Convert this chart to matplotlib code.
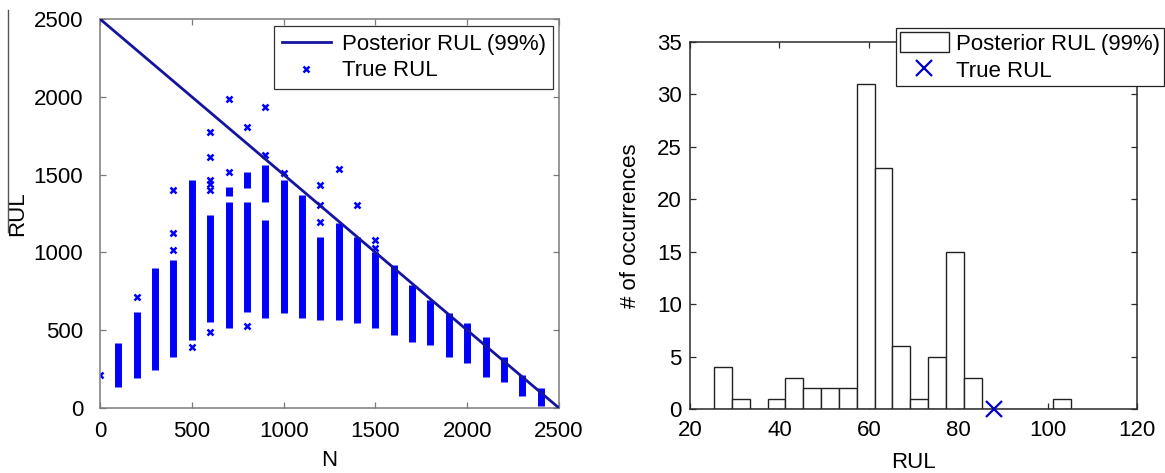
import matplotlib
matplotlib.use("Agg")
import matplotlib.pyplot as plt
from matplotlib.lines import Line2D
from matplotlib.patches import Patch

plt.rcParams['font.family'] = ['Liberation Sans', 'DejaVu Sans']

# ---- left panel: true RUL samples at each cycle count N ----
n_cycles = [0, 100, 200, 300, 400, 500, 600, 700, 800, 900, 1000, 1100, 1200,
            1300, 1400, 1500, 1600, 1700, 1800, 1900, 2000, 2100, 2200, 2300, 2400]

# dense runs of samples (low, high) for each column
true_rul_runs = [
    [],
    [(135, 418)],
    [(192, 619)],
    [(244, 900)],
    [(330, 951)],
    [(440, 1465)],
    [(555, 1240)],
    [(512, 1326), (1360, 1420)],
    [(619, 1326), (1411, 1519)],
    [(578, 1208), (1326, 1562)],
    [(608, 1465)],
    [(576, 1369)],
    [(566, 1101)],
    [(566, 1186)],
    [(545, 1101)],
    [(512, 1000)],
    [(469, 919)],
    [(426, 790)],
    [(405, 694)],
    [(330, 608)],
    [(287, 544)],
    [(201, 458)],
    [(169, 330)],
    [(80, 212)],
    [(10, 126)],
]

# isolated samples away from the dense runs
true_rul_single = [
    [212],
    [],
    [715],
    [],
    [1015, 1124, 1401],
    [394],
    [490, 1400, 1440, 1465, 1615, 1776],
    [1519, 1986],
    [527, 1808],
    [1626, 1932],
    [1508],
    [],
    [1197, 1305, 1433],
    [1534],
    [1305],
    [1030, 1080],
    [],
    [],
    [],
    [],
    [],
    [],
    [],
    [],
    [],
]

posterior_n = [0, 2500]
posterior_rul = [2500, 0]

# ---- right panel: histogram of posterior RUL ----
bin_start = 25.4
bin_width = 3.99
counts = [4, 1, 0, 1, 3, 2, 2, 2, 31, 23, 6, 1, 5, 15, 3, 0, 0, 0, 0, 1]
true_rul = 88

W, H = 1165, 473
FS = 16
fig = plt.figure(figsize=(W / 100, H / 100), dpi=100)

blue = '#0000ff'
line_blue = '#1414a0'

ax1 = fig.add_axes([100 / W, 1 - 408 / H, 459 / W, 389 / H])
for n, runs in zip(n_cycles, true_rul_runs):
    for lo, hi in runs:
        ax1.vlines(n, lo, hi, color=blue, lw=5, zorder=2)
xs, ys = [], []
for n, pts in zip(n_cycles, true_rul_single):
    for p in pts:
        xs.append(n)
        ys.append(p)
ax1.plot(posterior_n, posterior_rul, color=line_blue, lw=2, zorder=3,
         label='Posterior RUL (99%)')
ax1.plot(xs, ys, 'x', color=blue, ms=4.5, mew=1.8, zorder=2, label='True RUL')
ax1.set_xlim(0, 2500)
ax1.set_ylim(0, 2500)
ax1.set_xticks(range(0, 2501, 500))
ax1.set_yticks(range(0, 2501, 500))
ax1.set_xlabel('N', fontsize=FS)
ax1.set_ylabel('RUL', fontsize=FS)
ax1.xaxis.set_label_coords(0.5, -0.108)
ax1.yaxis.set_label_coords(-0.157, 0.5)
leg1 = ax1.legend(loc='upper right', bbox_to_anchor=(0.988, 0.982), fontsize=FS,
                  handlelength=2.2, handletextpad=0.5, borderpad=0.35,
                  labelspacing=0.25, fancybox=False, framealpha=1,
                  edgecolor='#333333', borderaxespad=0)
leg1.get_frame().set_linewidth(0.9)

ax2 = fig.add_axes([690 / W, 1 - 409 / H, 447 / W, 367 / H])
edges = [bin_start + i * bin_width for i in range(len(counts))]
ax2.bar(edges, counts, width=bin_width, align='edge', facecolor='white',
        edgecolor='#222222', lw=1.0, zorder=2)
ax2.plot([true_rul], [0], 'x', color='#0000cc', ms=12, mew=1.6, zorder=4,
         clip_on=False)
ax2.set_xlim(20, 120)
ax2.set_ylim(0, 35)
ax2.set_xticks(range(20, 121, 20))
ax2.set_yticks(range(0, 36, 5))
ax2.set_xlabel('RUL', fontsize=FS)
ax2.set_ylabel('# of occurrences', fontsize=FS)
ax2.xaxis.set_label_coords(0.5, -0.118)
ax2.yaxis.set_label_coords(-0.11, 0.5)
handles = [Patch(facecolor='white', edgecolor='#222222', lw=1.0),
           Line2D([], [], ls='none', marker='x', color='#0000cc', ms=12, mew=1.6)]
leg2 = fig.legend(handles, ['Posterior RUL (99%)', 'True RUL'],
                  loc='upper right', bbox_to_anchor=(1164 / W, 1 - 28 / H),
                  fontsize=FS, handlelength=2.2, handleheight=1.0,
                  handletextpad=0.3, borderpad=0.2, labelspacing=0.2,
                  fancybox=False, framealpha=1, edgecolor='#222222',
                  borderaxespad=0)
leg2.get_frame().set_linewidth(0.9)

for ax, spine_col, xpad, ypad in ((ax1, '#7a7a7a', 9, 12), (ax2, '#2a2a2a', 8, 6)):
    for s in ax.spines.values():
        s.set_color(spine_col)
        s.set_linewidth(1.1)
    ax.tick_params(direction='in', length=4, width=0.9, color=spine_col,
                   top=True, right=True, labelsize=FS)
    ax.tick_params(axis='x', pad=xpad)
    ax.tick_params(axis='y', pad=ypad)

# stray rule beside the RUL label
fig.add_artist(Line2D([8 / W, 8 / W], [1 - 10 / H, 1 - 232 / H],
                      transform=fig.transFigure, color='#555555', lw=1))

fig.savefig('out.png', dpi=100)
